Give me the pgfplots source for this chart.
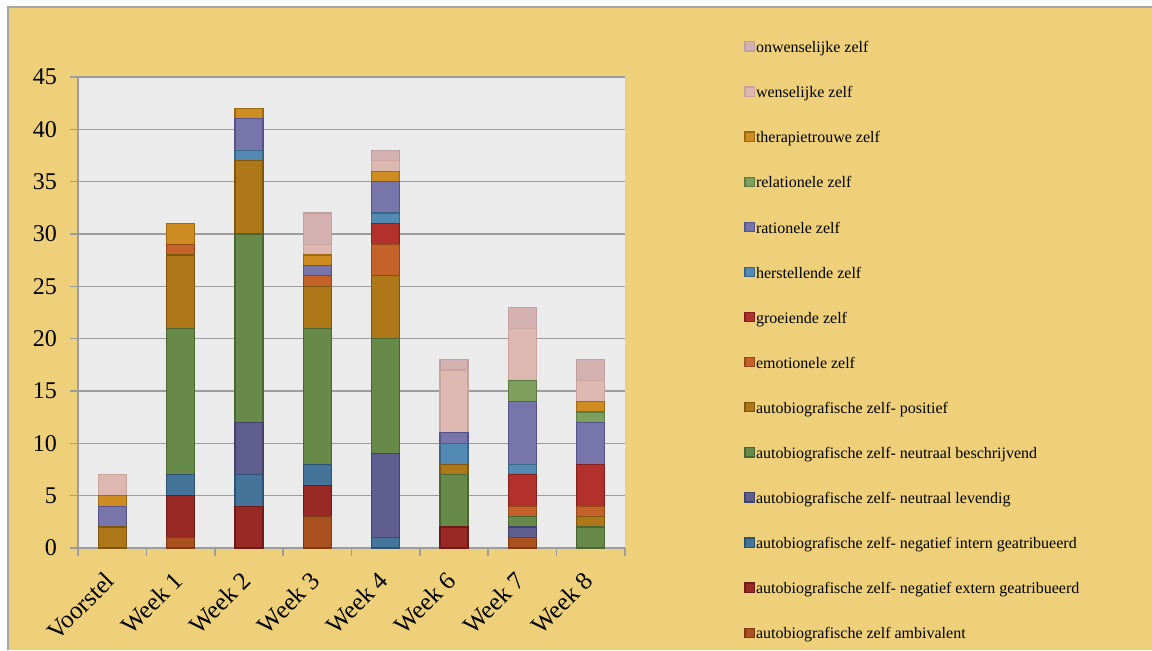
\documentclass[border=0pt]{standalone}
\usepackage{fontspec}
\setmainfont{Liberation Serif}
\usepackage{pgfplots}
\pgfplotsset{compat=1.18}
\definecolor{bg}{HTML}{EED07A}
\definecolor{plotbg}{HTML}{EBEBEB}
\definecolor{gridc}{HTML}{9C9C9C}
\definecolor{cAmb}{HTML}{A9501F}\definecolor{dAmb}{HTML}{7F3A15}
\definecolor{cExt}{HTML}{992925}\definecolor{dExt}{HTML}{6E1A18}
\definecolor{cInt}{HTML}{45749A}\definecolor{dInt}{HTML}{2F5270}
\definecolor{cLev}{HTML}{5F5E8F}\definecolor{dLev}{HTML}{43426A}
\definecolor{cBes}{HTML}{678A48}\definecolor{dBes}{HTML}{4A6633}
\definecolor{cPos}{HTML}{AE7818}\definecolor{dPos}{HTML}{80570F}
\definecolor{cEmo}{HTML}{C5622A}\definecolor{dEmo}{HTML}{974819}
\definecolor{cGro}{HTML}{B3312D}\definecolor{dGro}{HTML}{86201E}
\definecolor{cHer}{HTML}{528AB4}\definecolor{dHer}{HTML}{3A6688}
\definecolor{cRat}{HTML}{7775AA}\definecolor{dRat}{HTML}{555389}
\definecolor{cRel}{HTML}{7EA05D}\definecolor{dRel}{HTML}{5D7A42}
\definecolor{cThe}{HTML}{CE8C22}\definecolor{dThe}{HTML}{A06A12}
\definecolor{cWen}{HTML}{DDB8B0}\definecolor{dWen}{HTML}{CBA59D}
\definecolor{cOnw}{HTML}{D4B1B1}\definecolor{dOnw}{HTML}{C0A0A0}
\pgfplotsset{sqlegend/.style={legend image code/.code={\draw[##1,line width=0.6pt] (0pt,-1.2pt) rectangle (4.6pt,3.4pt);}}}
\begin{document}
\begin{tikzpicture}
\useasboundingbox (0,0) rectangle (576pt,325pt);
\fill[white] (0,0) rectangle (576pt,325pt);
\fill[bg] (4pt,0) rectangle (576pt,321.5pt);
\draw[gray!70, line width=0.8pt] (4pt,0) -- (4pt,321.5pt) -- (576pt,321.5pt);
\begin{axis}[
  at={(39pt,51pt)}, anchor=south west,
  scale only axis, width=273.5pt, height=235.5pt,
  ybar stacked, bar width=14pt,
  xmin=-0.5, xmax=7.5, ymin=0, ymax=45,
  ytick={0,5,...,45},
  xtick={0,...,7},
  xticklabels={Voorstel,Week 1,Week 2,Week 3,Week 4,Week 6,Week 7,Week 8},
  minor xtick={-0.5,0.5,...,7.5},
  major x tick style={draw=none},
  axis x line*=bottom, axis y line*=left,
  axis line style={gridc, line width=0.8pt, -},
  tick style={gridc, line width=0.8pt},
  tick align=outside,
  major tick length=4pt, minor tick length=4pt,
  ymajorgrids, grid style={gridc, line width=0.8pt},
  axis background/.style={fill=plotbg},
  /pgf/number format/assume math mode=true,
  yticklabel style={font=\fontsize{12}{14}\selectfont, xshift=-3pt},
  xticklabel style={font=\fontsize{12.5}{15}\selectfont, xshift=-4.3pt, yshift=-2.2pt, rotate=45, anchor=north east},
  every axis plot post/.append style={sqlegend, line width=0.6pt},
  legend reversed,
  legend cell align=left,
  legend style={at={(0,1)}, anchor=north west, xshift=330pt, yshift=21pt,
    draw=none, fill=none, font=\fontsize{8}{9}\selectfont, row sep=13.35pt,
    nodes={inner sep=0.6pt, text height=6pt, text depth=2pt}},
]
\addplot[fill=cAmb, draw=dAmb] coordinates {(0,0) (1,1) (2,0) (3,3) (4,0) (5,0) (6,1) (7,0)};
\addplot[fill=cExt, draw=dExt] coordinates {(0,0) (1,4) (2,4) (3,3) (4,0) (5,2) (6,0) (7,0)};
\addplot[fill=cInt, draw=dInt] coordinates {(0,0) (1,2) (2,3) (3,2) (4,1) (5,0) (6,0) (7,0)};
\addplot[fill=cLev, draw=dLev] coordinates {(0,0) (1,0) (2,5) (3,0) (4,8) (5,0) (6,1) (7,0)};
\addplot[fill=cBes, draw=dBes] coordinates {(0,0) (1,14) (2,18) (3,13) (4,11) (5,5) (6,1) (7,2)};
\addplot[fill=cPos, draw=dPos] coordinates {(0,2) (1,7) (2,7) (3,4) (4,6) (5,1) (6,0) (7,1)};
\addplot[fill=cEmo, draw=dEmo] coordinates {(0,0) (1,1) (2,0) (3,1) (4,3) (5,0) (6,1) (7,1)};
\addplot[fill=cGro, draw=dGro] coordinates {(0,0) (1,0) (2,0) (3,0) (4,2) (5,0) (6,3) (7,4)};
\addplot[fill=cHer, draw=dHer] coordinates {(0,0) (1,0) (2,1) (3,0) (4,1) (5,2) (6,1) (7,0)};
\addplot[fill=cRat, draw=dRat] coordinates {(0,2) (1,0) (2,3) (3,1) (4,3) (5,1) (6,6) (7,4)};
\addplot[fill=cRel, draw=dRel] coordinates {(0,0) (1,0) (2,0) (3,0) (4,0) (5,0) (6,2) (7,1)};
\addplot[fill=cThe, draw=dThe] coordinates {(0,1) (1,2) (2,1) (3,1) (4,1) (5,0) (6,0) (7,1)};
\addplot[fill=cWen, draw=dWen] coordinates {(0,2) (1,0) (2,0) (3,1) (4,1) (5,6) (6,5) (7,2)};
\addplot[fill=cOnw, draw=dOnw] coordinates {(0,0) (1,0) (2,0) (3,3) (4,1) (5,1) (6,2) (7,2)};
\legend{autobiografische zelf ambivalent,
autobiografische zelf- negatief extern geatribueerd,
autobiografische zelf- negatief intern geatribueerd,
autobiografische zelf- neutraal levendig,
autobiografische zelf- neutraal beschrijvend,
autobiografische zelf- positief,
emotionele zelf,
groeiende zelf,
herstellende zelf,
rationele zelf,
relationele zelf,
therapietrouwe zelf,
wenselijke zelf,
onwenselijke zelf}
\end{axis}
\end{tikzpicture}
\end{document}
